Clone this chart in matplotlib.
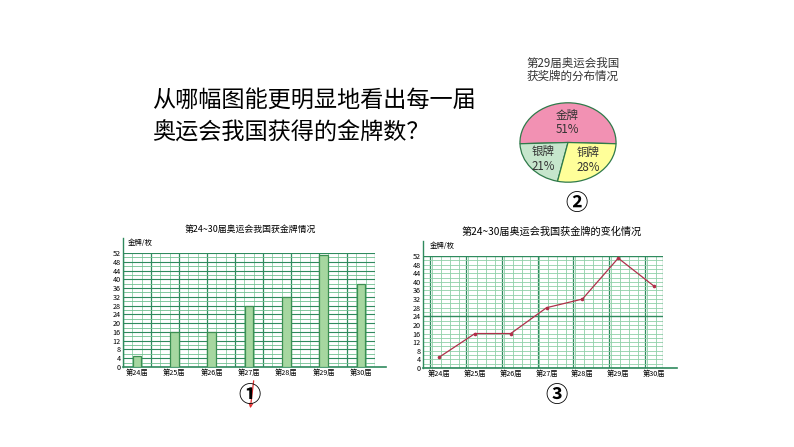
import matplotlib
matplotlib.use('Agg')
import matplotlib.pyplot as plt
import numpy as np

plt.rcParams['font.family'] = ['Noto Sans CJK SC', 'DejaVu Sans']

# data
sessions = ['第24届', '第25届', '第26届', '第27届', '第28届', '第29届', '第30届']
gold = [5, 16, 16, 28, 32, 51, 38]
pie_labels = ['金牌', '银牌', '铜牌']
pie_share = [51, 21, 28]
y_ticks = list(range(0, 53, 4))

W, H = 794, 447
fig = plt.figure(figsize=(W / 100, H / 100), dpi=100)
fig.patch.set_facecolor('white')


def box(x0, y0, x1, y1):
    # pixel box (top-left origin) -> figure fraction
    return [x0 / W, 1 - y1 / H, (x1 - x0) / W, (y1 - y0) / H]


dark = '#2f8a5e'
light = '#8fd0a8'

# question text
fig.text(152 / W, 1 - 100 / H, '从哪幅图能更明显地看出每一届', fontsize=16.7,
         va='center', ha='left', color='black')
fig.text(152 / W, 1 - 133 / H, '奥运会我国获得的金牌数？', fontsize=16.7,
         va='center', ha='left', color='black')

# ---------- bar chart ----------
ax1 = fig.add_axes(box(123, 253, 375, 367))
x = np.arange(len(sessions))
ax1.set_xlim(-0.375, 6.375)
ax1.set_ylim(0, 52)
for k in range(28):
    xv = -0.375 + k * 0.25
    if k % 3 == 0:
        ax1.axvline(xv, color=dark, lw=0.9, zorder=1)
    else:
        ax1.axvline(xv, color=light, lw=0.6, zorder=1)
for yv in range(0, 53, 2):
    if yv % 4 == 0:
        ax1.axhline(yv, color=dark, lw=0.8, zorder=1)
    else:
        ax1.axhline(yv, color='#6fbf90', lw=0.6, zorder=1)
ax1.bar(x, gold, width=0.24, color='#a6d7a0', edgecolor='#3c8f52', lw=0.9, zorder=3)
for s in ax1.spines.values():
    s.set_visible(False)
ax1.plot([0, 0], [0, 1.13], transform=ax1.transAxes, color=dark, lw=1, clip_on=False)
ax1.plot([0, 1.045], [0, 0], transform=ax1.transAxes, color=dark, lw=1.2, clip_on=False)
ax1.set_xticks(x)
ax1.set_xticklabels(sessions, fontsize=5.2)
ax1.set_yticks(y_ticks)
ax1.set_yticklabels([str(v) for v in y_ticks], fontsize=5.2)
ax1.tick_params(length=0, pad=1.5)
ax1.text(0.02, 1.09, '金牌/枚', transform=ax1.transAxes, fontsize=5.3, va='center')
fig.text(250 / W, 1 - 229 / H, '第24~30届奥运会我国获金牌情况', fontsize=6.4,
         ha='center', va='center')

# ---------- line chart ----------
ax3 = fig.add_axes(box(423, 256, 663, 368))
ax3.set_xlim(-0.45, 6.25)
ax3.set_ylim(0, 52)
for k in range(27):
    xv = -0.45 + k * 0.25
    ax3.axvline(xv, color=light, lw=0.6, zorder=1)
for k in range(7):
    ax3.axvline(k - 0.25, color=dark, lw=0.9, zorder=1)
for yv in range(0, 53, 2):
    c = dark if yv in (0, 24, 52) else light
    lw = 1.0 if yv in (0, 24, 52) else 0.6
    ax3.axhline(yv, color=c, lw=lw, zorder=1)
ax3.axvline(6.25, color=dark, lw=0.9, zorder=1)
ax3.plot(x, gold, color='#b0304a', lw=0.9, marker='o', ms=1.6, zorder=3)
for s in ax3.spines.values():
    s.set_visible(False)
ax3.plot([0, 0], [0, 1.13], transform=ax3.transAxes, color=dark, lw=1, clip_on=False)
ax3.plot([0, 1.06], [0, 0], transform=ax3.transAxes, color=dark, lw=1.2, clip_on=False)
ax3.set_xticks(x)
ax3.set_xticklabels(sessions, fontsize=5.2)
ax3.set_yticks(y_ticks)
ax3.set_yticklabels([str(v) for v in y_ticks], fontsize=5.2)
ax3.tick_params(length=0, pad=1.5)
ax3.text(0.03, 1.09, '金牌/枚', transform=ax3.transAxes, fontsize=5.3, va='center')
fig.text(552 / W, 1 - 232 / H, '第24~30届奥运会我国获金牌的变化情况', fontsize=7.3,
         ha='center', va='center')

# ---------- pie chart ----------
ax2 = fig.add_axes(box(519, 102, 617, 183))
wedges, texts = ax2.pie(pie_share, colors=['#f291b3', '#c6e6cc', '#ffff99'],
                        startangle=90 - pie_share[0] * 3.6 / 2, counterclock=True,
                        wedgeprops=dict(edgecolor='#2f7a4a', linewidth=0.9))
ax2.set_aspect('auto')
ax2.set_xlim(-1.02, 1.02)
ax2.set_ylim(-1.02, 1.02)
label_pos = [(-0.02, 0.5), (-0.52, -0.42), (0.42, -0.44)]
for lab, val, (px, py) in zip(pie_labels, pie_share, label_pos):
    ax2.text(px, py, f'{lab}\n{val}%', ha='center', va='center', fontsize=8.3,
             color='#333333', linespacing=1.15)
fig.text(573 / W, 1 - 63 / H, '第29届奥运会我国', fontsize=8.3, ha='center', va='center',
         color='#333333')
fig.text(573 / W, 1 - 76 / H, '获奖牌的分布情况', fontsize=8.3, ha='center', va='center',
         color='#333333')

# circled numbers
fig.text(577 / W, 1 - 203 / H, '②', fontsize=16, ha='center', va='center', fontweight='bold')
fig.text(250 / W, 1 - 395 / H, '①', fontsize=16, ha='center', va='center', fontweight='bold')
fig.text(557 / W, 1 - 395 / H, '③', fontsize=16, ha='center', va='center', fontweight='bold')

# red pen mark near ①
fig.add_artist(matplotlib.patches.FancyArrowPatch(
    (254 / W, 1 - 378 / H), (250 / W, 1 - 411 / H), transform=fig.transFigure,
    arrowstyle='->', mutation_scale=6, color='#e03030', lw=0.9))

fig.savefig('out.png', dpi=100, facecolor='white')
